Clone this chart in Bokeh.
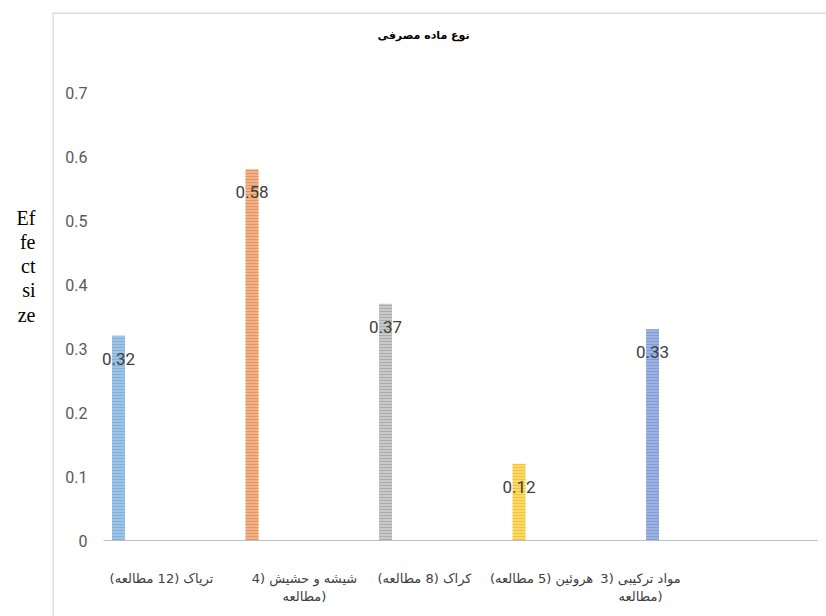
from bokeh.plotting import figure
from bokeh.models import (ColumnDataSource, FixedTicker, LabelSet, Label,
                          Span, Range1d, LinearAxis)
from bokeh.core.properties import value
from bokeh.embed import file_html
from bokeh.resources import INLINE

# ---------------- data ----------------
categories = ["تریاک (12 مطالعه)", "شیشه و حشیش (4 مطالعه)", "کراک (8 مطالعه)",
              "هروئین (5 مطالعه)", "مواد ترکیبی (3 مطالعه)"]
tick_texts = ["تریاک (12 مطالعه)", "شیشه و حشیش (4\nمطالعه)", "کراک (8 مطالعه)",
              "هروئین (5 مطالعه)", "مواد ترکیبی (3\nمطالعه)"]
effect_sizes = [0.32, 0.58, 0.37, 0.12, 0.33]
value_labels = ["0.32", "0.58", "0.37", "0.12", "0.33"]
y_ticks = [0, 0.1, 0.2, 0.3, 0.4, 0.5, 0.6, 0.7]
y_tick_labels = ["0", "0.1", "0.2", "0.3", "0.4", "0.5", "0.6", "0.7"]
chart_title = "نوع ماده مصرفی"
y_title = "Ef\nfe\nct\nsi\nze\n\n\n\n"

# ---------------- styling ----------------
fill_colors = ["#9DC3E6", "#F4B183", "#C9C9C9", "#FFD966", "#9DB4E2"]
hatch_colors = ["#7FAEDB", "#D99467", "#A8A8A8", "#EBC343", "#7C9AD3"]
label_shift = [0.322, 0.393, 0.292, 0.169, -0.09]   # where the category text sits
bar_width = 0.097
axis_x = 0.8876          # start of the category axis line
axis_x_end = 6.236

xs = [i + 1 for i in range(len(categories))]
tick_pos = [x + s for x, s in zip(xs, label_shift)]

src = ColumnDataSource(dict(x=xs, top=effect_sizes, lab=value_labels,
                            fill=fill_colors, hatch=hatch_colors))

p = figure(width=826, height=616, output_backend="svg", toolbar_location=None,
           x_range=Range1d(0.5056, 6.303), y_range=Range1d(-0.11875, 0.825),
           x_axis_type=None, y_axis_type=None,
           min_border_left=52, min_border_right=0, min_border_top=12,
           min_border_bottom=0)
p.outline_line_color = None
p.xgrid.visible = False
p.ygrid.visible = False
p.background_fill_color = "white"
p.border_fill_color = "white"

# chart-box border (left and top edges; right/bottom lie outside the window)
p.add_layout(Span(location=0.5056 + 0.5 / 133.5, dimension="height",
                  line_color="#D0D0D0", line_width=1.3))
p.add_layout(Span(location=0.825 - 0.5 / 640, dimension="width",
                  line_color="#D0D0D0", line_width=1.3))

p.vbar(x="x", top="top", width=bar_width, bottom=0, source=src,
       fill_color="fill", line_color=None,
       hatch_pattern="horizontal_line", hatch_color="hatch",
       hatch_scale=3, hatch_weight=1, hatch_alpha=0.9)

p.add_layout(LabelSet(x="x", y="top", text="lab", source=src, y_offset=-23,
                      text_align="center", text_baseline="middle",
                      text_font_size=value("17px"), text_font=value("Roboto"),
                      text_color=value("#404040")))

# y axis (tick labels only), drawn inside the chart box
yax = LinearAxis(ticker=FixedTicker(ticks=y_ticks), fixed_location=axis_x)
yax.major_label_overrides = {t: s for t, s in zip(y_ticks, y_tick_labels)}
yax.axis_line_color = None
yax.major_tick_line_color = None
yax.minor_tick_line_color = None
yax.major_label_standoff = 10
yax.major_label_text_font = "Roboto"
yax.major_label_text_font_size = "16px"
yax.major_label_text_color = "#595959"
p.add_layout(yax, "left")

# x axis (category labels), drawn at y = 0
xax = LinearAxis(ticker=FixedTicker(ticks=tick_pos), fixed_location=0,
                 bounds=(axis_x, axis_x_end))
xax.major_label_overrides = {t: s for t, s in zip(tick_pos, tick_texts)}
xax.axis_line_color = "#BFBFBF"
xax.axis_line_width = 1
xax.major_tick_line_color = None
xax.minor_tick_line_color = None
xax.major_label_standoff = 24
xax.major_label_text_font = "DejaVu Sans"
xax.major_label_text_font_size = "13px"
xax.major_label_text_color = "#404040"
p.add_layout(xax, "below")

# y-axis title, outside the chart box
tax = LinearAxis(ticker=FixedTicker(ticks=[]), axis_label=y_title)
tax.axis_line_color = None
tax.major_tick_line_color = None
tax.minor_tick_line_color = None
tax.axis_label_orientation = "horizontal"
tax.axis_label_standoff = 17
tax.axis_label_text_font = "Liberation Serif"
tax.axis_label_text_font_style = "normal"
tax.axis_label_text_font_size = "20px"
tax.axis_label_text_line_height = 1.1
tax.axis_label_text_color = "black"
p.add_layout(tax, "left")

# chart title
p.add_layout(Label(x=3.285, y=0.789, text=chart_title, text_align="center",
                   text_baseline="middle", text_font="DejaVu Sans",
                   text_font_style="bold", text_font_size="11px",
                   text_color="black"))

open("out.html", "w").write(file_html(p, INLINE))
